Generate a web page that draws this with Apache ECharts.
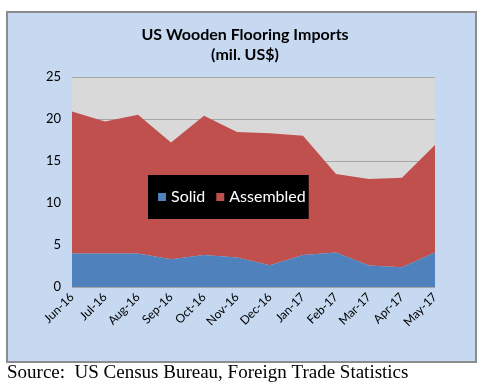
<!DOCTYPE html>
<html><head><meta charset="utf-8">
<script src="https://cdn.jsdelivr.net/npm/echarts@6/dist/echarts.min.js"></script>
<style>html,body{margin:0;padding:0;background:#fff}#c{width:493px;height:387px}</style>
</head><body><div id="c"></div>
<script>
var categories = ['Jun-16','Jul-16','Aug-16','Sep-16','Oct-16','Nov-16','Dec-16','Jan-17','Feb-17','Mar-17','Apr-17','May-17'];
var solid = [4.0, 4.0, 4.0, 3.3, 3.8, 3.5, 2.6, 3.8, 4.1, 2.55, 2.35, 4.1];
var assembled = [16.9, 15.7, 16.5, 13.9, 16.6, 14.95, 15.7, 14.2, 9.35, 10.3, 10.65, 12.8];
var yTicks = [0, 5, 10, 15, 20, 25];

var chart = echarts.init(document.getElementById('c'), null, {renderer: 'canvas'});
chart.setOption({
  backgroundColor: '#ffffff',
  animation: false,
  graphic: [
    {type: 'rect', z: -10, shape: {x: 7, y: 12, width: 469, height: 350},
     style: {fill: '#c6d9f1', stroke: '#8c8c8c', lineWidth: 2}},
    {type: 'text', left: 7, top: 364,
     style: {text: 'Source:  US Census Bureau, Foreign Trade Statistics', fill: '#000',
       font: '19px "Liberation Serif", "DejaVu Serif", serif'}}
  ],
  title: {
    text: 'US Wooden Flooring Imports\n(mil. US$)',
    left: 240, textAlign: 'center', top: 20,
    textStyle: {fontFamily: 'Lato', fontWeight: 'bold', fontSize: 16, lineHeight: 20, color: '#000'}
  },
  legend: {
    data: ['Solid', 'Assembled'],
    left: 148, top: 175,
    backgroundColor: '#000', padding: [14, 3, 14, 10],
    icon: 'rect', itemWidth: 8, itemHeight: 8, itemGap: 11,
    textStyle: {color: '#fff', fontFamily: 'Lato', fontSize: 16}
  },
  grid: {left: 72, right: 58, top: 77, bottom: 100, show: true, backgroundColor: '#d9d9d9', borderWidth: 0, containLabel: false},
  xAxis: {
    type: 'category', data: categories, boundaryGap: false,
    axisLine: {show: false}, axisTick: {show: false},
    axisLabel: {rotate: 45, fontFamily: 'Lato', fontSize: 12, color: '#000', interval: 0, margin: 8}
  },
  yAxis: {
    type: 'value', min: yTicks[0], max: yTicks[yTicks.length - 1], interval: 5,
    axisLine: {show: false}, axisTick: {show: false},
    splitLine: {lineStyle: {color: '#a6a6a6', width: 1}},
    axisLabel: {fontFamily: 'Lato', fontSize: 13, color: '#000', margin: 11}
  },
  series: [
    {name: 'Solid', type: 'line', stack: 'total', data: solid, symbol: 'none',
     lineStyle: {width: 0}, itemStyle: {color: '#4f81bd'}, areaStyle: {color: '#4f81bd', opacity: 1}, z: 3},
    {name: 'Assembled', type: 'line', stack: 'total', data: assembled, symbol: 'none',
     lineStyle: {width: 0}, itemStyle: {color: '#c0504d'}, areaStyle: {color: '#c0504d', opacity: 1}, z: 2}
  ]
});
</script></body></html>
